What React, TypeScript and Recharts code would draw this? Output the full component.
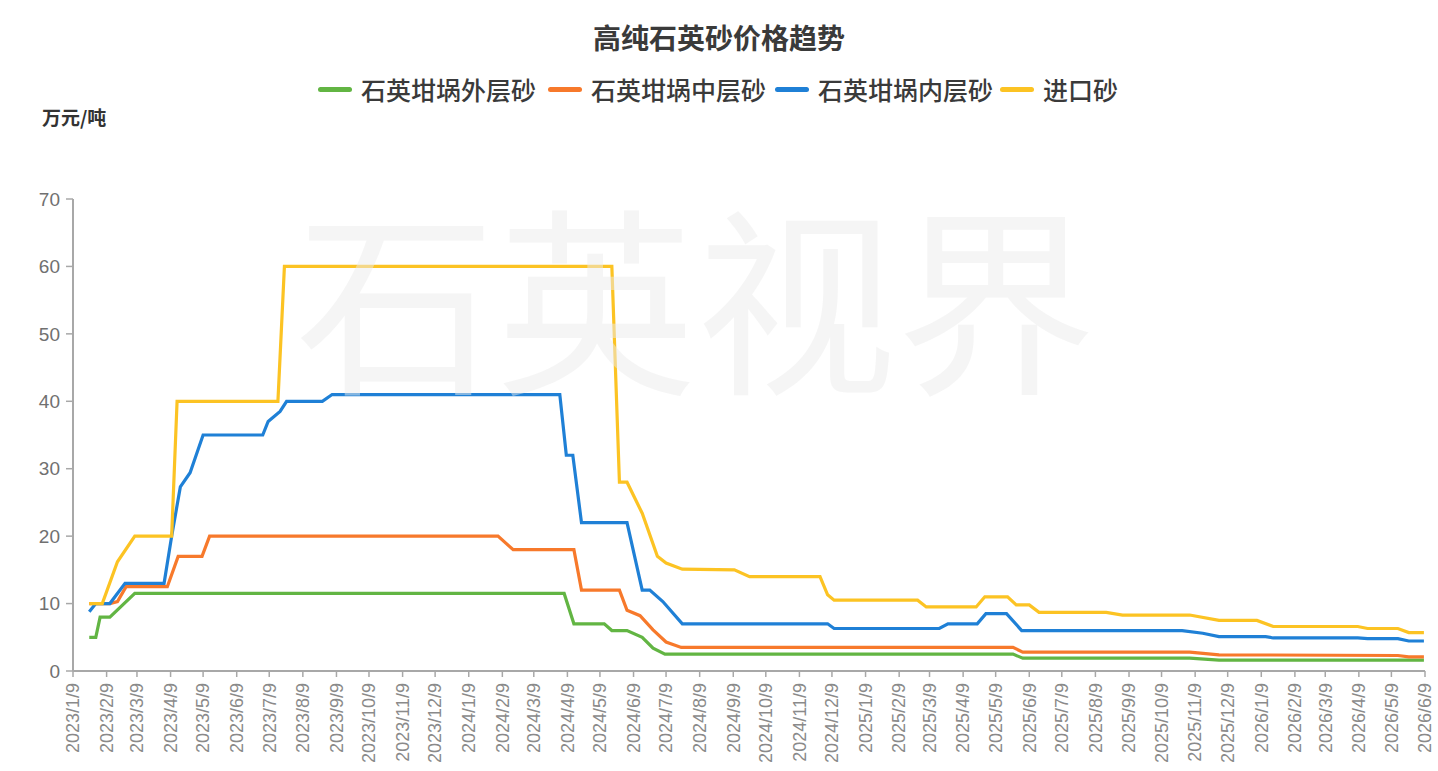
import React from 'react';
import { LineChart, Line, XAxis, YAxis } from 'recharts';

const TITLE = '高纯石英砂价格趋势';
const UNIT = '万元/吨';
const WATERMARK = '石英视界';
const SERIES_NAMES = ['石英坩埚外层砂', '石英坩埚中层砂', '石英坩埚内层砂', '进口砂'];
const SERIES_COLORS = ['#62b543', '#f7792b', '#1f80d6', '#fcc323'];

const xTickLabels = [
  '2023/1/9', '2023/2/9', '2023/3/9', '2023/4/9', '2023/5/9', '2023/6/9', '2023/7/9', '2023/8/9',
  '2023/9/9', '2023/10/9', '2023/11/9', '2023/12/9', '2024/1/9', '2024/2/9', '2024/3/9', '2024/4/9',
  '2024/5/9', '2024/6/9', '2024/7/9', '2024/8/9', '2024/9/9', '2024/10/9', '2024/11/9', '2024/12/9',
  '2025/1/9', '2025/2/9', '2025/3/9', '2025/4/9', '2025/5/9', '2025/6/9', '2025/7/9', '2025/8/9',
  '2025/9/9', '2025/10/9', '2025/11/9', '2025/12/9', '2026/1/9', '2026/2/9', '2026/3/9', '2026/4/9',
  '2026/5/9', '2026/6/9',
];
const yTicks = [0, 10, 20, 30, 40, 50, 60, 70];

// 石英坩埚外层砂
const outerDates = [
  '2023/1/24', '2023/1/30', '2023/2/3', '2023/2/12', '2023/3/7', '2024/4/6', '2024/4/15', '2024/5/13',
  '2024/5/20', '2024/6/3', '2024/6/17', '2024/6/27', '2024/7/8', '2025/5/25', '2025/6/3', '2025/11/4',
  '2025/12/1', '2026/6/8',
];
const outerValues = [5, 5, 8, 8, 11.5, 11.5, 7, 7, 6, 6, 5, 3.4, 2.5, 2.5, 1.9, 1.9, 1.6, 1.6];

// 石英坩埚中层砂
const middleDates = [
  '2023/1/24', '2023/2/12', '2023/2/19', '2023/2/27', '2023/4/6', '2023/4/16', '2023/5/8', '2023/5/15',
  '2024/2/5', '2024/2/19', '2024/4/15', '2024/4/22', '2024/5/27', '2024/6/3', '2024/6/15', '2024/6/27',
  '2024/7/9', '2024/7/23', '2025/5/25', '2025/6/3', '2025/11/4', '2025/12/1', '2026/5/15', '2026/5/25',
  '2026/6/8',
];
const middleValues = [
  10, 10, 10.3, 12.5, 12.5, 17, 17, 20, 20, 18, 18, 12, 12, 9, 8.2, 6.1, 4.3, 3.5, 3.5, 2.8, 2.8, 2.4, 2.3,
  2.1, 2.1,
];

// 石英坩埚内层砂
const innerDates = [
  '2023/1/24', '2023/1/30', '2023/2/12', '2023/2/26', '2023/4/3', '2023/4/10', '2023/4/18', '2023/4/27',
  '2023/5/9', '2023/7/3', '2023/7/8', '2023/7/19', '2023/7/25', '2023/8/27', '2023/9/5', '2024/4/2',
  '2024/4/8', '2024/4/14', '2024/4/22', '2024/6/3', '2024/6/17', '2024/6/24', '2024/7/6', '2024/7/24',
  '2024/12/5', '2024/12/11', '2025/3/18', '2025/3/26', '2025/4/22', '2025/4/30', '2025/5/19', '2025/6/2',
  '2025/10/28', '2025/11/16', '2025/12/1', '2026/1/13', '2026/1/20', '2026/4/8', '2026/4/17', '2026/5/15',
  '2026/5/25', '2026/6/8',
];
const innerValues = [
  8.8, 10, 10, 13, 13, 20, 27.3, 29.4, 35, 35, 37, 38.5, 40, 40, 41, 41, 32, 32, 22, 22, 12, 12, 10.3, 7,
  7, 6.3, 6.3, 7, 7, 8.5, 8.5, 6, 6, 5.6, 5.1, 5.1, 4.9, 4.9, 4.8, 4.8, 4.45, 4.45,
];

// 进口砂
const importDates = [
  '2023/1/24', '2023/2/5', '2023/2/19', '2023/3/7', '2023/4/10', '2023/4/15', '2023/7/17', '2023/7/23',
  '2024/5/20', '2024/5/27', '2024/6/3', '2024/6/17', '2024/7/1', '2024/7/9', '2024/7/24', '2024/9/10',
  '2024/9/24', '2024/11/28', '2024/12/5', '2024/12/11', '2025/2/26', '2025/3/6', '2025/4/21', '2025/4/29',
  '2025/5/20', '2025/5/28', '2025/6/9', '2025/6/18', '2025/8/19', '2025/9/3', '2025/11/4', '2025/12/1',
  '2026/1/5', '2026/1/20', '2026/4/8', '2026/4/17', '2026/5/15', '2026/5/25', '2026/6/8',
];
const importValues = [
  10, 10, 16.2, 20, 20, 40, 40, 60, 60, 28, 28, 23.4, 17, 16, 15.1, 15, 14, 14, 11.3, 10.5, 10.5, 9.5,
  9.5, 11, 11, 9.8, 9.8, 8.7, 8.7, 8.3, 8.3, 7.5, 7.5, 6.6, 6.6, 6.3, 6.3, 5.7, 5.7,
];

const parseDate = (s: string) => {
  const [y, m, d] = s.split('/').map(Number);
  return Date.UTC(y, m - 1, d);
};
const fmtDate = (t: number) => {
  const d = new Date(t);
  return `${d.getUTCFullYear()}/${d.getUTCMonth() + 1}/${d.getUTCDate()}`;
};
const build = (dates: string[], values: number[]) => dates.map((d, i) => ({ t: parseDate(d), v: values[i] }));

const seriesData = [
  build(outerDates, outerValues),
  build(middleDates, middleValues),
  build(innerDates, innerValues),
  build(importDates, importValues),
];
const xTicks = xTickLabels.map(parseDate);

const FONT = "'Liberation Sans', Arial, 'Noto Sans CJK SC', sans-serif";
const CJK = "'Noto Sans CJK SC', 'Liberation Sans', sans-serif";

const XTick = (props: any) => {
  const { x, y, payload } = props;
  return (
    <text
      x={x}
      y={y}
      dy="0.35em"
      transform={`rotate(-90, ${x}, ${y})`}
      textAnchor="end"
      fill="#8a8a8a"
      fontSize={18}
      fontFamily={FONT}
    >
      {fmtDate(payload.value)}
    </text>
  );
};

const legendLefts = [318, 548, 775, 1000];

export default function App() {
  return (
    <div style={{ position: 'absolute', left: 0, top: 0, width: 1438, height: 771, background: '#fff', overflow: 'hidden' }}>
      <div
        style={{
          position: 'absolute', left: 0, width: 1438, top: 17, textAlign: 'center', fontFamily: CJK,
          fontSize: 28, fontWeight: 700, color: '#3a3a3a', lineHeight: '40px',
        }}
      >
        {TITLE}
      </div>
      {SERIES_NAMES.map((name, i) => (
        <div
          key={name}
          style={{
            position: 'absolute', left: legendLefts[i], top: 73, height: 32, display: 'flex', alignItems: 'center',
            fontFamily: CJK, fontSize: 25, fontWeight: 500, color: '#3a3a3a', whiteSpace: 'nowrap',
          }}
        >
          <span style={{ display: 'inline-block', width: 34, height: 5, borderRadius: 3, background: SERIES_COLORS[i], marginRight: 9 }} />
          {name}
        </div>
      ))}
      <div
        style={{
          position: 'absolute', left: 42, top: 103, fontFamily: CJK, fontSize: 19, fontWeight: 700, color: '#333',
          lineHeight: '28px',
        }}
      >
        {UNIT}
      </div>
      <div style={{ position: 'absolute', left: 0, top: 0 }}>
        <LineChart width={1438} height={771} margin={{ top: 199, right: 13, left: 0, bottom: 0 }}>
          <XAxis
            type="number"
            dataKey="t"
            domain={[xTicks[0], xTicks[xTicks.length - 1]]}
            ticks={xTicks}
            interval={0}
            allowDataOverflow
            height={100}
            tick={<XTick />}
            tickSize={6}
            tickMargin={6}
            axisLine={{ stroke: '#a8a8a8', strokeWidth: 2 }}
            tickLine={{ stroke: '#a8a8a8', strokeWidth: 1.5 }}
          />
          <YAxis
            type="number"
            domain={[0, 70]}
            ticks={yTicks}
            width={73}
            tickSize={7}
            tickMargin={6}
            tick={{ fill: '#707070', fontSize: 19, fontFamily: FONT }}
            axisLine={{ stroke: '#a8a8a8', strokeWidth: 2 }}
            tickLine={{ stroke: '#a8a8a8', strokeWidth: 1.5 }}
          />
          {seriesData.map((d, i) => (
            <Line
              key={SERIES_NAMES[i]}
              data={d}
              dataKey="v"
              name={SERIES_NAMES[i]}
              type="linear"
              stroke={SERIES_COLORS[i]}
              strokeWidth={3.2}
              dot={false}
              activeDot={false}
              isAnimationActive={false}
            />
          ))}
        </LineChart>
      </div>
      <div
        style={{
          position: 'absolute', left: 296, top: 192, fontFamily: CJK, fontSize: 200, fontWeight: 400,
          lineHeight: '200px', color: 'rgba(236,236,236,0.5)', pointerEvents: 'none', whiteSpace: 'nowrap',
        }}
      >
        {WATERMARK}
      </div>
    </div>
  );
}
